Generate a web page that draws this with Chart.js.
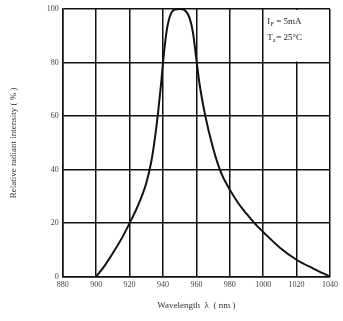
<!DOCTYPE html>
<html>
<head>
<meta charset="utf-8">
<script src="https://cdn.jsdelivr.net/npm/chart.js@4"></script>
<style>
  html, body { margin: 0; padding: 0; background: #fff; }
  #wrap { width: 343px; height: 321px; }
</style>
</head>
<body>
<div id="wrap"><canvas id="c" width="343" height="321"></canvas></div>
<script>
// spectrum
const wavelengths = [900, 905, 910, 915, 920, 925, 930, 933, 935, 937, 939, 940, 942, 944, 947, 950, 953, 956, 958, 960, 962, 965, 970, 975, 980, 985, 990, 995, 1000, 1010, 1020, 1030, 1040];
const intensity   = [0,   4,   8.8, 14,  20,  26.5, 35, 43,  51,  61,  73,  80,  91,  97,  99.8, 100, 99.5, 96.5, 91, 81,  71.5, 61, 48,  38.5, 32.5, 27.5, 23.5, 19.8, 16.7, 10.8, 6.3,  3,    0];
const xTicks = [880, 900, 920, 940, 960, 980, 1000, 1020, 1040];
const yTicks = [0, 20, 40, 60, 80, 100];

const serif = '"Liberation Serif", "DejaVu Serif", serif';

// white box with test conditions in the top-right cell
const noteBox = {
  id: 'noteBox',
  afterDraw(chart) {
    const { ctx, scales: { x, y } } = chart;
    const l = x.getPixelForValue(1000), r = x.getPixelForValue(1040);
    const t = y.getPixelForValue(100), b = y.getPixelForValue(80);
    ctx.save();
    ctx.fillStyle = '#fff';
    ctx.fillRect(l + 1, t + 1, r - l - 2, b - t - 2);
    ctx.fillStyle = '#222';
    ctx.font = '9px ' + serif;
    ctx.textBaseline = 'alphabetic';
    const tx = l + 4;
    ctx.fillText('I', tx, t + 15);
    ctx.font = '6px ' + serif;
    ctx.fillText('F', tx + 3.5, t + 17);
    ctx.font = '9px ' + serif;
    ctx.fillText('= 5mA', tx + 9, t + 15);
    ctx.fillText('T', tx, t + 31);
    ctx.font = '6px ' + serif;
    ctx.fillText('a', tx + 5.5, t + 33);
    ctx.font = '9px ' + serif;
    ctx.fillText('= 25\u00B0C', tx + 9, t + 31);
    ctx.restore();
  }
};

new Chart(document.getElementById('c'), {
  type: 'line',
  data: {
    datasets: [{
      data: wavelengths.map((w, i) => ({ x: w, y: intensity[i] })),
      borderColor: '#111',
      borderWidth: 2,
      pointRadius: 0,
      fill: false,
      cubicInterpolationMode: 'monotone'
    }]
  },
  options: {
    responsive: false,
    animation: false,
    layout: { padding: { top: 9, right: 13, left: 4, bottom: 6 } },
    plugins: { legend: { display: false }, tooltip: { enabled: false } },
    scales: {
      x: {
        type: 'linear',
        min: 880, max: 1040,
        afterBuildTicks: s => { s.ticks = xTicks.map(v => ({ value: v })); },
        grid: { color: '#111', lineWidth: 1.5, drawTicks: false },
        border: { color: '#111', width: 1.5 },
        ticks: { color: '#444', font: { family: serif, size: 8 }, padding: 4, maxRotation: 0, callback: v => String(v) },
        title: { display: true, text: 'Wavelength  \u03BB  ( nm )', color: '#333', font: { family: serif, size: 9 }, padding: { top: 6 } }
      },
      y: {
        min: 0, max: 100,
        afterBuildTicks: s => { s.ticks = yTicks.map(v => ({ value: v })); },
        grid: { color: '#111', lineWidth: 1.5, drawTicks: false },
        border: { color: '#111', width: 1.5 },
        ticks: { color: '#444', font: { family: serif, size: 8 }, padding: 4, callback: v => String(v) },
        title: { display: true, text: 'Relative radiant intensity ( % )', color: '#333', font: { family: serif, size: 9 }, padding: { bottom: 24 } }
      }
    }
  },
  plugins: [noteBox]
});
</script>
</body>
</html>
